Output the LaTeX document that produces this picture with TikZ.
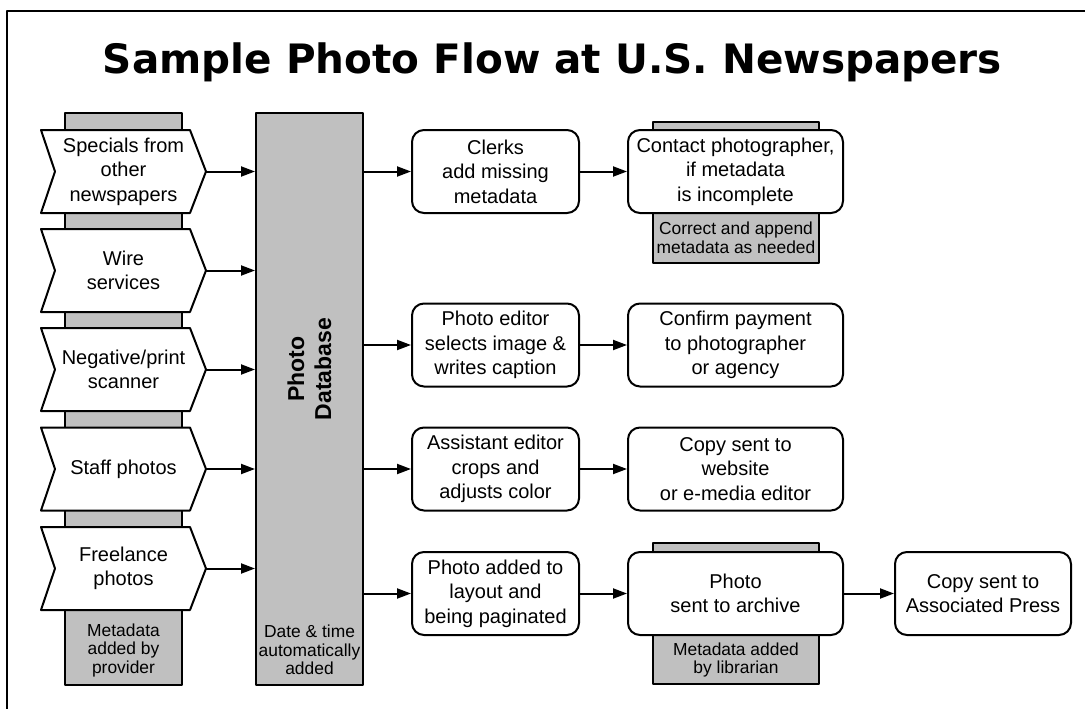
\documentclass[tikz,border=0pt]{standalone}
\usepackage{fontspec}
\setmainfont{Liberation Sans}
\newfontfamily\titlefont{DejaVu Sans}
\usetikzlibrary{arrows.meta}
\definecolor{dbgray}{RGB}{192,192,192}
\tikzset{
	box/.style={draw,line width=2pt,fill=white,rounded corners=12pt,minimum height=83pt,inner sep=0pt,align=center,font=\fontsize{20}{24.5}\selectfont},
	srcbox/.style={minimum width=165pt,minimum height=83pt,inner sep=0pt,align=center,font=\fontsize{20}{24.5}\selectfont},
	graybox/.style={draw,line width=2pt,fill=dbgray},
	note/.style={align=center,inner sep=0pt,font=\fontsize{17.4}{18.5}\selectfont},
	arr/.style={line width=2pt,-{Triangle[length=14pt,width=10pt]}},
}
\begin{document}
\begin{tikzpicture}[x=1pt,y=-1pt,line join=round]
	\useasboundingbox (0,0) rectangle (1085,709);
	\draw[line width=1.5pt] (7,720)--(7,11)--(1095,11);
	\node[anchor=base,font=\titlefont\bfseries\fontsize{40.5}{48}\selectfont] (title) at (552.5,74) {Sample Photo Flow at U.S. Newspapers};
	
	%Cột nguồn và cơ sở dữ liệu
	\draw[graybox] (65,113) rectangle (182,685);
	\node[graybox,minimum width=107pt,minimum height=572pt,inner sep=0pt] (db) at (309.5,399) {};
	\node[rotate=90,align=center,font=\bfseries\fontsize{23}{27}\selectfont] (dbname) at (309.5,369) {Photo\\Database};
	\node[note] (dbnote) at (309.5,650) {Date \& time\\automatically\\added};
	\node[note] (srcnote) at (123.5,650) {Metadata\\added by\\provider};
	\foreach \y/\name/\txt in {171.5/s1/{Specials from\\other\\newspapers},270.5/s2/{Wire\\services},369.5/s3/{Negative/print\\scanner},469/s4/{Staff photos},568.5/s5/{Freelance\\photos}}{
		\draw[line width=2pt,fill=white] (41,\y-41.5)--(190,\y-41.5)--(206,\y)--(190,\y+41.5)--(41,\y+41.5)--(55,\y)--cycle;
		\node[srcbox] (\name) at (123.5,\y) {\txt};
		\draw[arr] (\name.east)--(\name.east -| db.west);
	}
	
	%Các bước xử lý
	\draw[graybox] (653,122) rectangle (819,263);
	\node[note] (fixnote) at (736,238) {Correct and append\\metadata as needed};
	\draw[graybox] (653,543) rectangle (819,684);
	\node[note] (libnote) at (736,660) {Metadata added\\by librarian};
	
	\node[box,minimum width=167pt] (clerk) at (495.5,171.5) {Clerks\\add missing\\metadata};
	\node[box,minimum width=215pt] (contact) at (735.5,171.5) {Contact photographer,\\if metadata\\is incomplete};
	\node[box,minimum width=167pt] (edit) at (495.5,345) {Photo editor\\selects image \&\\writes caption};
	\node[box,minimum width=215pt] (pay) at (735.5,345) {Confirm payment\\to photographer\\or agency};
	\node[box,minimum width=167pt] (crop) at (495.5,469) {Assistant editor\\crops and\\adjusts color};
	\node[box,minimum width=215pt] (web) at (735.5,469) {Copy sent to\\website\\or e-media editor};
	\node[box,minimum width=167pt] (layout) at (495.5,593.5) {Photo added to\\layout and\\being paginated};
	\node[box,minimum width=215pt] (archive) at (735.5,593.5) {Photo\\sent to archive};
	\node[box,minimum width=176pt] (ap) at (983,593.5) {Copy sent to\\Associated Press};
	
	\foreach \a/\b in {clerk/contact,edit/pay,crop/web,layout/archive}{
		\draw[arr] (db.east |- \a.west)--(\a.west);
		\draw[arr] (\a.east)--(\b.west);
	}
	\draw[arr] (archive.east)--(ap.west);
\end{tikzpicture}
\end{document}
